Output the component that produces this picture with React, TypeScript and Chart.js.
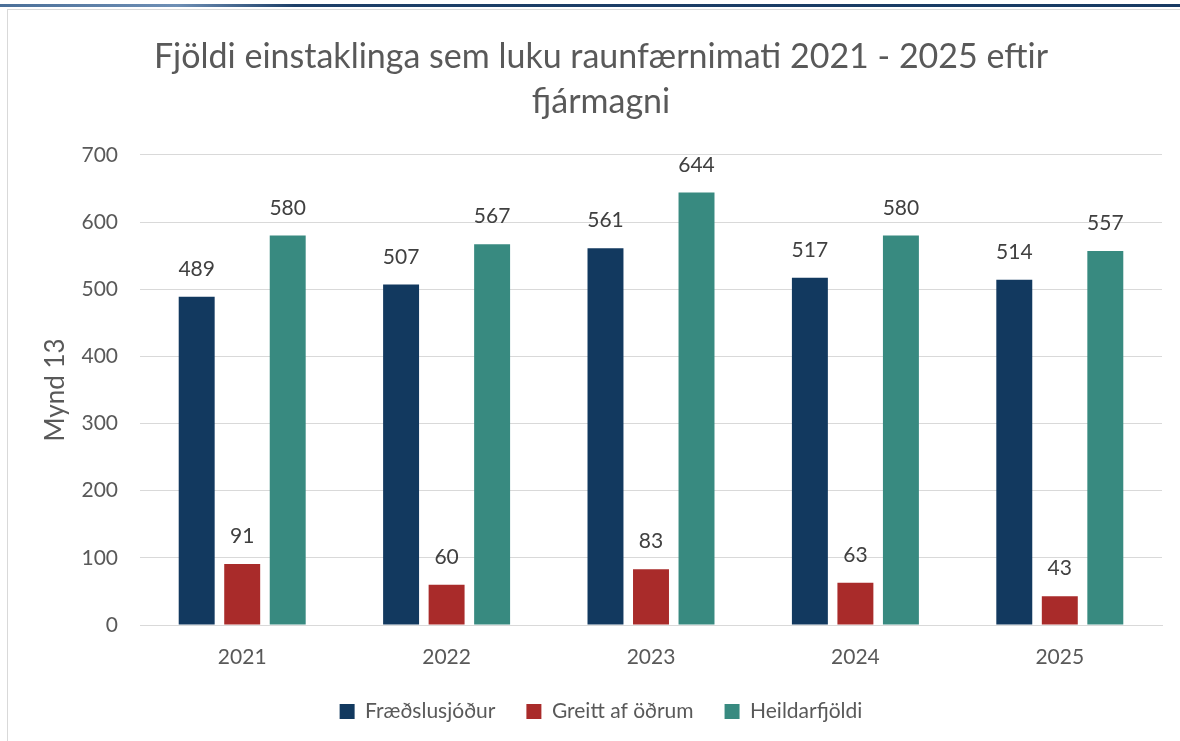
import React, { useEffect, useRef } from "react";
import { Chart, registerables } from "chart.js";

Chart.register(...registerables);

const categories = ["2021", "2022", "2023", "2024", "2025"];
const fraedslusjodur = [489, 507, 561, 517, 514];
const greittAfOdrum = [91, 60, 83, 63, 43];
const heildarfjoldi = [580, 567, 644, 580, 557];
const seriesNames = ["Fræðslusjóður", "Greitt af öðrum", "Heildarfjöldi"];
const seriesColors = ["#12395F", "#A92B2A", "#388A80"];
const titleLines = ["Fjöldi einstaklinga sem luku raunfærnimati 2021 - 2025 eftir", "fjármagni"];
const yAxisTitle = "Mynd 13";

const FONT = "Lato, 'Open Sans', sans-serif";

const valueLabels = {
  id: "valueLabels",
  afterDatasetsDraw(chart: any) {
    const ctx = chart.ctx;
    ctx.save();
    ctx.font = `21px ${FONT}`;
    ctx.fillStyle = "#404040";
    ctx.textAlign = "center";
    ctx.textBaseline = "alphabetic";
    chart.data.datasets.forEach((ds: any, i: number) => {
      const meta = chart.getDatasetMeta(i);
      meta.data.forEach((bar: any, j: number) => {
        ctx.fillText(String(ds.data[j]), bar.x, bar.y - 21);
      });
    });
    ctx.restore();
  },
};

export default function App() {
  const ref = useRef<HTMLCanvasElement | null>(null);
  useEffect(() => {
    document.body.style.margin = "0";
    const chart = new Chart(ref.current!, {
      type: "bar",
      data: {
        labels: categories,
        datasets: [fraedslusjodur, greittAfOdrum, heildarfjoldi].map((d, i) => ({
          label: seriesNames[i],
          data: d,
          backgroundColor: seriesColors[i],
          categoryPercentage: 0.668,
          barPercentage: 0.79,
        })),
      },
      options: {
        animation: false,
        responsive: false,
        maintainAspectRatio: false,
        layout: { padding: { top: 10, left: 40, right: 18, bottom: 9 } },
        plugins: {
          title: {
            display: true,
            text: titleLines,
            color: "#595959",
            font: { family: FONT, size: 34, weight: "normal", lineHeight: 1.32 },
            padding: { top: 24.5, bottom: 30.7 },
          },
          legend: {
            position: "bottom",
            labels: {
              color: "#595959",
              font: { family: FONT, size: 21 },
              boxWidth: 15,
              boxHeight: 15,
              padding: 31,
            },
          },
          tooltip: { enabled: false },
        },
        scales: {
          x: {
            grid: { display: false, drawTicks: false },
            border: { display: true, color: "#D9D9D9", width: 1 },
            ticks: { color: "#595959", font: { family: FONT, size: 21 }, padding: 20 },
            afterFit(scale: any) {
              scale.height = 45;
            },
          },
          y: {
            min: 0,
            max: 700,
            ticks: { stepSize: 100, color: "#595959", font: { family: FONT, size: 21 }, padding: 22 },
            grid: { color: "#D9D9D9", drawTicks: false },
            border: { display: false },
            title: {
              display: true,
              text: yAxisTitle,
              color: "#595959",
              font: { family: FONT, size: 26 },
              padding: 0,
            },
            afterFit(scale: any) {
              scale.width = 100;
            },
          },
        },
      },
      plugins: [valueLabels],
    });
    return () => chart.destroy();
  }, []);
  return (
    <div style={{ position: "relative", width: 1180, height: 741, background: "#fff", overflow: "hidden" }}>
      <div
        style={{
          position: "absolute",
          left: 0,
          top: 4,
          width: 1180,
          height: 3,
          background: "linear-gradient(to right, #4a6f98 0%, #6e8fb5 15%, #1d3f68 25%, #173a63 100%)",
        }}
      />
      <div
        style={{
          position: "absolute",
          left: 7,
          top: 9,
          width: 1200,
          height: 760,
          border: "1px solid #D9D9D9",
          boxSizing: "border-box",
        }}
      />
      <canvas ref={ref} width={1180} height={741} style={{ position: "absolute", left: 0, top: 0 }} />
    </div>
  );
}
